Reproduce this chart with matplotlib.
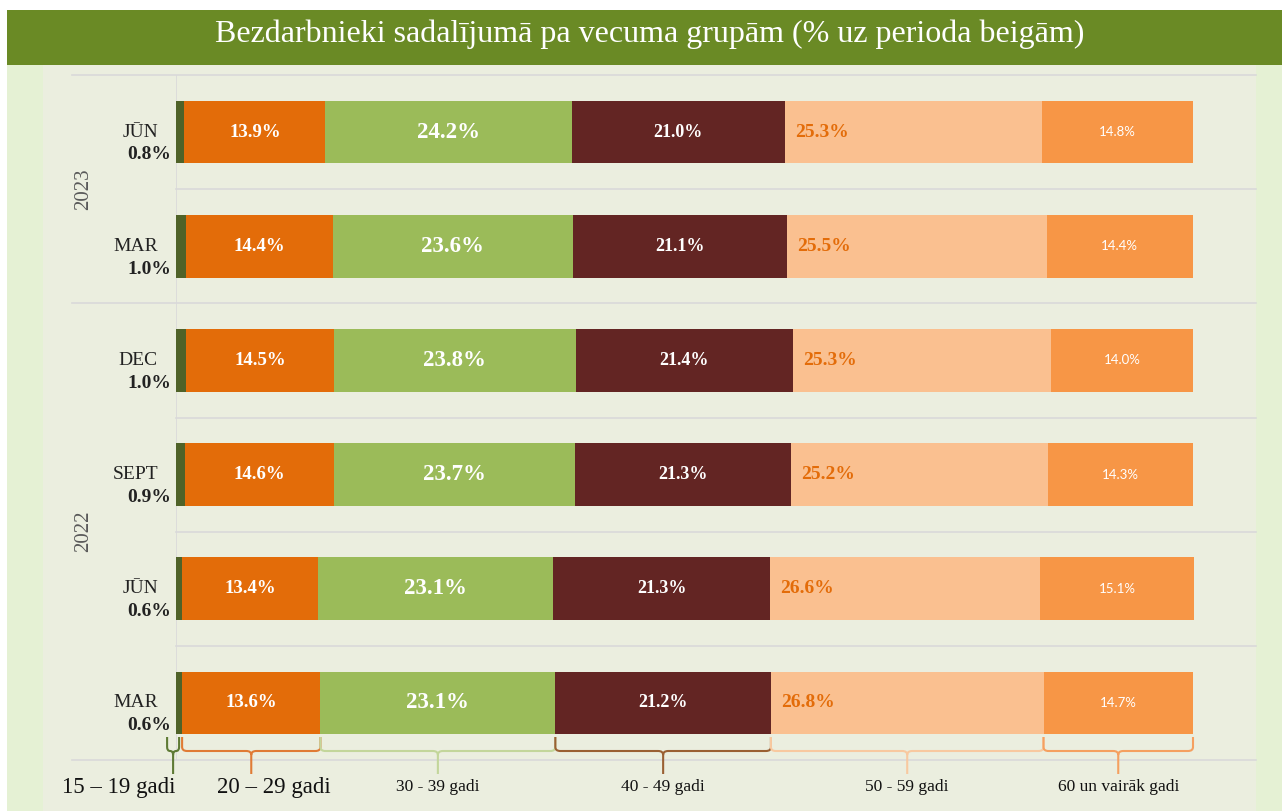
import matplotlib
matplotlib.use("Agg")
import matplotlib.pyplot as plt
from matplotlib.patches import Rectangle, PathPatch
from matplotlib.path import Path
from matplotlib.transforms import IdentityTransform

# data
periods = ["JŪN", "MAR", "DEC", "SEPT", "JŪN", "MAR"]
years = ["2023", "2023", "2022", "2022", "2022", "2022"]
groups = ["15 – 19 gadi", "20 – 29 gadi", "30 - 39 gadi", "40 - 49 gadi",
          "50 - 59 gadi", "60 un vairāk gadi"]
age_15_19 = [0.8, 1.0, 1.0, 0.9, 0.6, 0.6]
age_20_29 = [13.9, 14.4, 14.5, 14.6, 13.4, 13.6]
age_30_39 = [24.2, 23.6, 23.8, 23.7, 23.1, 23.1]
age_40_49 = [21.0, 21.1, 21.4, 21.3, 21.3, 21.2]
age_50_59 = [25.3, 25.5, 25.3, 25.2, 26.6, 26.8]
age_60 = [14.8, 14.4, 14.0, 14.3, 15.1, 14.7]

title = "Bezdarbnieki sadalījumā pa vecuma grupām (% uz perioda beigām)"

series = [age_15_19, age_20_29, age_30_39, age_40_49, age_50_59, age_60]
colors = ["#4F6228", "#E36C09", "#9BBB59", "#632523", "#FAC090", "#F79646"]
brace_colors = ["#5E7A35", "#E07B35", "#C3D69B", "#9A6033", "#F8C9A0", "#F5A060"]

W, H = 1282, 811
SERIF = ["Liberation Serif", "DejaVu Serif"]

fig = plt.figure(figsize=(W / 100, H / 100), dpi=100, facecolor="#E5F1D4")


def fig_rect(x0, y0, x1, y1, color):
    # rectangle in pixel coords measured from the top-left corner
    fig.add_artist(Rectangle((x0 / W, 1 - y1 / H), (x1 - x0) / W, (y1 - y0) / H,
                             transform=fig.transFigure, color=color, zorder=-5, lw=0))


fig_rect(0, 0, W, 10, "white")
fig_rect(0, 0, 7, H, "white")
fig_rect(43, 65, 1256, H, "#EBEEDF")
fig_rect(7, 10, W, 65, "#6A8A25")
fig.text(650 / W, 1 - 34 / H, title, color="white", fontsize=23, family=SERIF,
         ha="center", va="center")

# axes: x=0 at 176px, 100% at 1193px, rows between y=75px and y=760px
ax_l, ax_r, ax_t, ax_b = 176, 1256, 75, 760
scale = (1193 - 176) / 100.0
ax = fig.add_axes([ax_l / W, 1 - ax_b / H, (ax_r - ax_l) / W, (ax_b - ax_t) / H])
ax.set_facecolor("none")
ax.set_xlim(0, (ax_r - ax_l) / scale)
n = len(periods)
ax.set_ylim(n - 0.5, -0.5)
ax.axis("off")


def px2x(px):
    return (px - ax_l) / scale


# separators
grid_c = "#D9D9D9"
for i in range(n + 1):
    yb = i - 0.5
    group_edge = i == 0 or i == n or years[i] != years[i - 1]
    x0 = px2x(72) if group_edge else 0
    ax.plot([x0, ax.get_xlim()[1]], [yb, yb], color=grid_c, lw=1.2, clip_on=False, zorder=0)
ax.plot([0, 0], [-0.5, n - 0.5], color=grid_c, lw=1.2, zorder=0)

# bars
rows = list(range(n))
left = [0.0] * n
bar_h = 0.55
for k, vals in enumerate(series):
    ax.barh(rows, vals, left=left, height=bar_h, color=colors[k], edgecolor="none", zorder=2)
    for i, v in enumerate(vals):
        mid = left[i] + v / 2
        lab = f"{v:.1f}%"
        if k == 1:
            ax.text(mid, i, lab, color="white", fontsize=13.5, fontweight="bold",
                    family=SERIF, ha="center", va="center", zorder=3)
        elif k == 3:
            ax.text(mid, i, lab, color="white", fontsize=13, fontweight="bold",
                    family=SERIF, ha="center", va="center", zorder=3)
        elif k == 2:
            ax.text(mid, i, lab, color="white", fontsize=16.5, fontweight="bold",
                    family=SERIF, ha="center", va="center", zorder=3)
        elif k == 4:
            ax.text(left[i] + 1.0, i, lab, color="#E36C09", fontsize=14, fontweight="bold",
                    family=SERIF, ha="left", va="center", zorder=3)
        elif k == 5:
            ax.text(mid, i, lab, color="white", fontsize=9.5, family=["Lato", "DejaVu Sans"],
                    ha="center", va="center", zorder=3)
    left = [l + v for l, v in zip(left, vals)]

# category labels with the 15-19 values
for i in range(n):
    ax.text(px2x(158), i, periods[i], fontsize=14, family=SERIF, color="#222222",
            ha="right", va="center", clip_on=False)
    ax.text(px2x(171), i + 0.2, f"{age_15_19[i]:.1f}%", fontsize=14, fontweight="bold",
            family=SERIF, color="#222222", ha="right", va="center", clip_on=False)

# year labels
start = 0
for i in range(1, n + 1):
    if i == n or years[i] != years[start]:
        ax.text(px2x(84), (start + i - 1) / 2, years[start], rotation=90, fontsize=15,
                family=SERIF, color="#595959", ha="center", va="center", clip_on=False)
        start = i

# braces under the bottom row segments, drawn in pixels
fig.canvas.draw()
last = n - 1
y_top, y_mid, y_tip = H - 737, H - 751, H - 774
cum = 0.0
for k, vals in enumerate(series):
    x0 = ax.transData.transform((cum, 0))[0]
    x1 = ax.transData.transform((cum + vals[last], 0))[0]
    cum += vals[last]
    if x1 - x0 < 14:
        # tiny segment: short brace hanging just left of its end
        x1 = x1 - 3
        x0 = x1 - 12
    xc = (x0 + x1) / 2
    d = min(5, (x1 - x0) / 4)
    verts = [(x0, y_top), (x0, y_mid + 4), (x0, y_mid), (x0 + d, y_mid),
             (xc - d, y_mid), (xc, y_mid), (xc, y_mid - 4), (xc, y_tip),
             (x1, y_top), (x1, y_mid + 4), (x1, y_mid), (x1 - d, y_mid),
             (xc + d, y_mid), (xc, y_mid), (xc, y_mid - 4)]
    codes = [Path.MOVETO, Path.LINETO, Path.CURVE3, Path.CURVE3,
             Path.LINETO, Path.CURVE3, Path.CURVE3, Path.LINETO,
             Path.MOVETO, Path.LINETO, Path.CURVE3, Path.CURVE3,
             Path.LINETO, Path.CURVE3, Path.CURVE3]
    fig.add_artist(PathPatch(Path(verts, codes), transform=IdentityTransform(),
                             fill=False, edgecolor=brace_colors[k], lw=1.5))
    size = 16.5 if k < 2 else 12.5
    if k == 0:
        tx, ha = xc + 2, "right"
    elif k == 1:
        tx, ha = xc + 23, "center"
    else:
        tx, ha = xc, "center"
    fig.text(tx / W, 1 - 787 / H, groups[k], fontsize=size, family=SERIF,
             color="#111111", ha=ha, va="center")

fig.savefig("out.png", dpi=100, facecolor=fig.get_facecolor())
